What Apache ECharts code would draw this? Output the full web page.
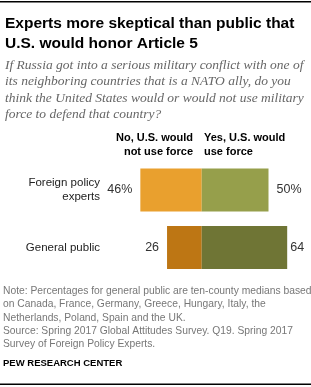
<!DOCTYPE html>
<html><head><meta charset="utf-8">
<script src="https://cdn.jsdelivr.net/npm/echarts@6/dist/echarts.min.js"></script>
<style>html,body{margin:0;padding:0;background:#fff}#c{width:311px;height:387px}</style>
</head><body><div id="c"></div>
<script>
const categories = ['Foreign policy\nexperts', 'General public'];
const noValues = [46, 26];
const yesValues = [50, 64];
const noLabels = ['46%', '26'];
const yesLabels = ['50%', '64'];
const seriesNames = ['No, U.S. would\nnot use force', 'Yes, U.S. would\nuse force'];
const noColors = ['#E9A02E', '#BD7614'];
const yesColors = ['#969F4B', '#6F7535'];

const chart = echarts.init(document.getElementById('c'), null, {renderer: 'canvas'});
const sans = 'Arial, "Liberation Sans", sans-serif';
const serif = '"Liberation Serif", Georgia, serif';

chart.setOption({
  animation: false,
  grid: {left: 135, right: 15.8, top: 161.25, height: 115},
  xAxis: {type: 'value', min: -50, max: 70, show: false},
  yAxis: {
    type: 'category', data: categories, inverse: true,
    axisLine: {show: false}, axisTick: {show: false},
    axisLabel: {margin: 35, color: '#222', fontSize: 11.5, fontFamily: sans, lineHeight: 14, align: 'right'}
  },
  series: [
    {
      name: seriesNames[0], type: 'bar', stack: 't', barWidth: 43,
      data: noValues.map((v, i) => ({value: -v, itemStyle: {color: noColors[i]}})),
      label: {show: true, position: 'left', distance: 8, color: '#333', fontSize: 12.5, fontFamily: sans,
        formatter: p => noLabels[p.dataIndex]}
    },
    {
      name: seriesNames[1], type: 'bar', stack: 't', barWidth: 43,
      data: yesValues.map((v, i) => ({value: v, itemStyle: {color: yesColors[i]},
        label: {distance: i === 1 ? 3 : 8}})),
      label: {show: true, position: 'right', color: '#333', fontSize: 12.5, fontFamily: sans,
        formatter: p => yesLabels[p.dataIndex]}
    }
  ],
  graphic: [
    {type: 'rect', shape: {x: 0, y: 1, width: 311, height: 1.5}, style: {fill: '#000'}},
    {type: 'text', x: 5, y: 14, style: {text: 'Experts more skeptical than public that\nU.S. would honor Article 5',
      font: 'bold 15.5px ' + sans, fill: '#000', lineHeight: 20}},
    {type: 'text', x: 5, y: 57, style: {text: 'If Russia got into a serious military conflict with one of\nits neighboring countries that is a NATO ally, do you\nthink the United States would or would not use military\nforce to defend that country?',
      font: 'italic 13.5px ' + serif, fill: '#666', lineHeight: 16.5}},
    {type: 'text', x: 193, y: 131, style: {text: seriesNames[0], align: 'right',
      font: 'bold 11px ' + sans, fill: '#000', lineHeight: 14}},
    {type: 'text', x: 204, y: 131, style: {text: seriesNames[1], align: 'left',
      font: 'bold 11px ' + sans, fill: '#000', lineHeight: 14}},
    {type: 'text', x: 3, y: 285, style: {text: 'Note: Percentages for general public are ten-county medians based\non Canada, France, Germany, Greece, Hungary, Italy, the\nNetherlands, Poland, Spain and the UK.\nSource: Spring 2017 Global Attitudes Survey. Q19. Spring 2017\nSurvey of Foreign Policy Experts.',
      font: '10.3px ' + sans, fill: '#777', lineHeight: 13.1}},
    {type: 'text', x: 3, y: 358, style: {text: 'PEW RESEARCH CENTER', font: 'bold 9.5px ' + sans, fill: '#000'}},
    {type: 'rect', shape: {x: 0, y: 383.5, width: 311, height: 1.5}, style: {fill: '#000'}}
  ]
});
</script></body></html>
